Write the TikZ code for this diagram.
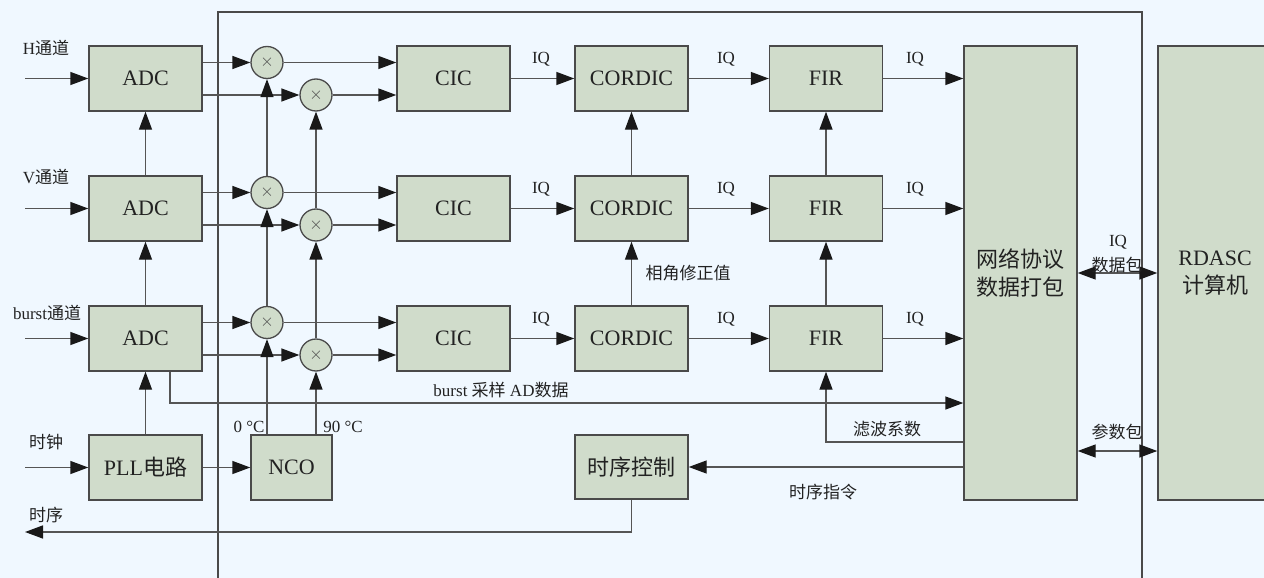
\documentclass[tikz,border=0pt]{standalone}
\usepackage{fontspec}
\setmainfont{Liberation Serif}
\newfontfamily\cjk{Noto Sans CJK SC}
\usetikzlibrary{arrows.meta}
\definecolor{bg}{HTML}{F0F8FF}
\definecolor{boxfill}{HTML}{D0DCCB}
\definecolor{boxdraw}{HTML}{4A4A4A}
\definecolor{linec}{HTML}{555555}
\definecolor{txt}{HTML}{222222}
\begin{document}
\begin{tikzpicture}[x=1pt,y=-1pt,
  blk/.style={draw=boxdraw, fill=boxfill, line width=1.4pt, inner sep=0pt,
    font=\fontsize{22}{30}\selectfont, text=txt, align=center},
  mul/.style={circle, draw=boxdraw, fill=boxfill, line width=1.3pt,
    minimum size=32pt, inner sep=0pt, font=\fontsize{17}{17}\selectfont, text=boxdraw},
  ln/.style={draw=linec, line width=1.4pt},
  tip/.style={},
  arr/.style={ln, -{Triangle[length=18pt,width=13pt,color=black!90]}},
  darr/.style={ln, {Triangle[length=18pt,width=13pt,color=black!90]}-{Triangle[length=18pt,width=13pt,color=black!90]}},
  lbl/.style={font=\fontsize{17}{20}\selectfont, text=txt, inner sep=0pt},
  frame/.style={draw=boxdraw, line width=1.3pt}
]
\fill[bg] (0,0) rectangle (1264,578);
\useasboundingbox (0,0) rectangle (1264,578);

% outer frame
\draw[frame] (218,578) -- (218,12) -- (1142,12) -- (1142,578);

% ADC boxes
\node[blk, minimum width=113pt, minimum height=65pt] (adcH) at (145.5,78.5) {ADC};
\node[blk, minimum width=113pt, minimum height=65pt] (adcV) at (145.5,208.5) {ADC};
\node[blk, minimum width=113pt, minimum height=65pt] (adcB) at (145.5,338.5) {ADC};
\node[blk, minimum width=113pt, minimum height=65pt] (pll) at (145.5,467.5) {PLL{\cjk 电路}};
\node[blk, minimum width=81pt, minimum height=65pt] (nco) at (291.5,467.5) {NCO};

% multipliers
\node[mul] (m1H) at (267,62.5) {$\times$};
\node[mul] (m2H) at (316,95) {$\times$};
\node[mul] (m1V) at (267,192.5) {$\times$};
\node[mul] (m2V) at (316,225) {$\times$};
\node[mul] (m1B) at (267,322.5) {$\times$};
\node[mul] (m2B) at (316,355) {$\times$};

% CIC / CORDIC / FIR
\foreach \r/\y in {H/78.5, V/208.5, B/338.5}{
  \node[blk, minimum width=113pt, minimum height=65pt] (cic\r) at (453.5,\y) {CIC};
  \node[blk, minimum width=113pt, minimum height=65pt] (cor\r) at (631.5,\y) {CORDIC};
  \node[blk, minimum width=113pt, minimum height=65pt] (fir\r) at (826,\y) {FIR};
}
\node[blk, minimum width=113pt, minimum height=64pt] (ctl) at (631.5,467) {{\cjk 时序控制}};
\node[blk, minimum width=113pt, minimum height=454pt] (net) at (1020.5,273) {{\cjk 网络协议}\\[-2pt]{\cjk 数据打包}};
\node[blk, minimum width=114pt, minimum height=454pt] (rd) at (1215,273) {RDASC\\[-2pt]{\cjk 计算机}};

% inputs
\coordinate (inH) at (25,78.5);
\coordinate (inV) at (25,208.5);
\coordinate (inB) at (25,338.5);
\coordinate (inC) at (25,467.5);
\draw[arr] (inH) -- (adcH);
\draw[arr] (inV) -- (adcV);
\draw[arr] (inB) -- (adcB);
\draw[arr] (inC) -- (pll);

\node[lbl] (lH) at (46,48) {H{\cjk 通道}};
\node[lbl] (lV) at (46,177) {V{\cjk 通道}};
\node[lbl] (lB) at (47,313) {burst{\cjk 通道}};
\node[lbl] (lC) at (46,442) {{\cjk 时钟}};
\node[lbl] (lT) at (46,515) {{\cjk 时序}};

% clock tree
\draw[arr] (pll) -- (adcB);
\draw[arr] (adcB) -- (adcV);
\draw[arr] (adcV) -- (adcH);
\draw[arr] (pll) -- (nco);

% ADC -> multipliers -> CIC
\foreach \r in {H,V,B}{
  \draw[arr] (adc\r.east |- m1\r) -- (m1\r);
  \draw[arr] (adc\r.east |- m2\r) -- (m2\r);
  \draw[arr] (m1\r) -- (cic\r.west |- m1\r);
  \draw[arr] (m2\r) -- (cic\r.west |- m2\r);
  \draw[arr] (cic\r) -- (cor\r);
  \draw[arr] (cor\r) -- (fir\r);
  \draw[arr] (fir\r) -- (fir\r -| net.west);
}

% NCO -> multipliers
\draw[arr] (nco.north -| m1B) -- (m1B);
\draw[arr] (m1B) -- (m1V);
\draw[arr] (m1V) -- (m1H);
\draw[arr] (nco.north -| m2B) -- (m2B);
\draw[arr] (m2B) -- (m2V);
\draw[arr] (m2V) -- (m2H);
\node[lbl] (l0) at (249,427) {0 °C};
\node[lbl] (l90) at (343,427) {90 °C};

% vertical CORDIC / FIR
\draw[arr] (corB) -- (corV);
\draw[arr] (corV) -- (corH);
\draw[arr] (firB) -- (firV);
\draw[arr] (firV) -- (firH);
\node[lbl] (lph) at (688,273) {{\cjk 相角修正值}};

% IQ labels
\foreach \r/\y in {H/59, V/189, B/319}{
  \node[lbl] (iqa\r) at (541,\y) {IQ};
  \node[lbl] (iqb\r) at (726,\y) {IQ};
  \node[lbl] (iqc\r) at (915,\y) {IQ};
}

% burst AD data
\coordinate (bAD) at (170,403);
\draw[arr] (adcB.south -| bAD) -- (bAD) -- (bAD -| net.west);
\node[lbl] (lAD) at (501,390) {burst {\cjk 采样} AD{\cjk 数据}};

% filter coefficients
\coordinate (flt) at (826,442);
\draw[arr] (flt -| net.west) -- (flt) -- (firB);
\node[lbl] (lflt) at (887,429) {{\cjk 滤波系数}};

% timing command
\draw[arr] (net.west |- ctl) -- (ctl);
\node[lbl] (lcmd) at (823,492) {{\cjk 时序指令}};
\coordinate (tout) at (25,532);
\draw[arr] (ctl.south) |- (tout);

% network <-> computer
\draw[darr] (net) -- (rd);
\node[lbl] (liq) at (1118,242) {IQ};
\node[lbl] (lpk) at (1117,265) {{\cjk 数据包}};
\coordinate (pk) at (1117,451);
\draw[darr] (net.east |- pk) -- (rd.west |- pk);
\node[lbl] (lpar) at (1117,432) {{\cjk 参数包}};
\end{tikzpicture}
\end{document}
